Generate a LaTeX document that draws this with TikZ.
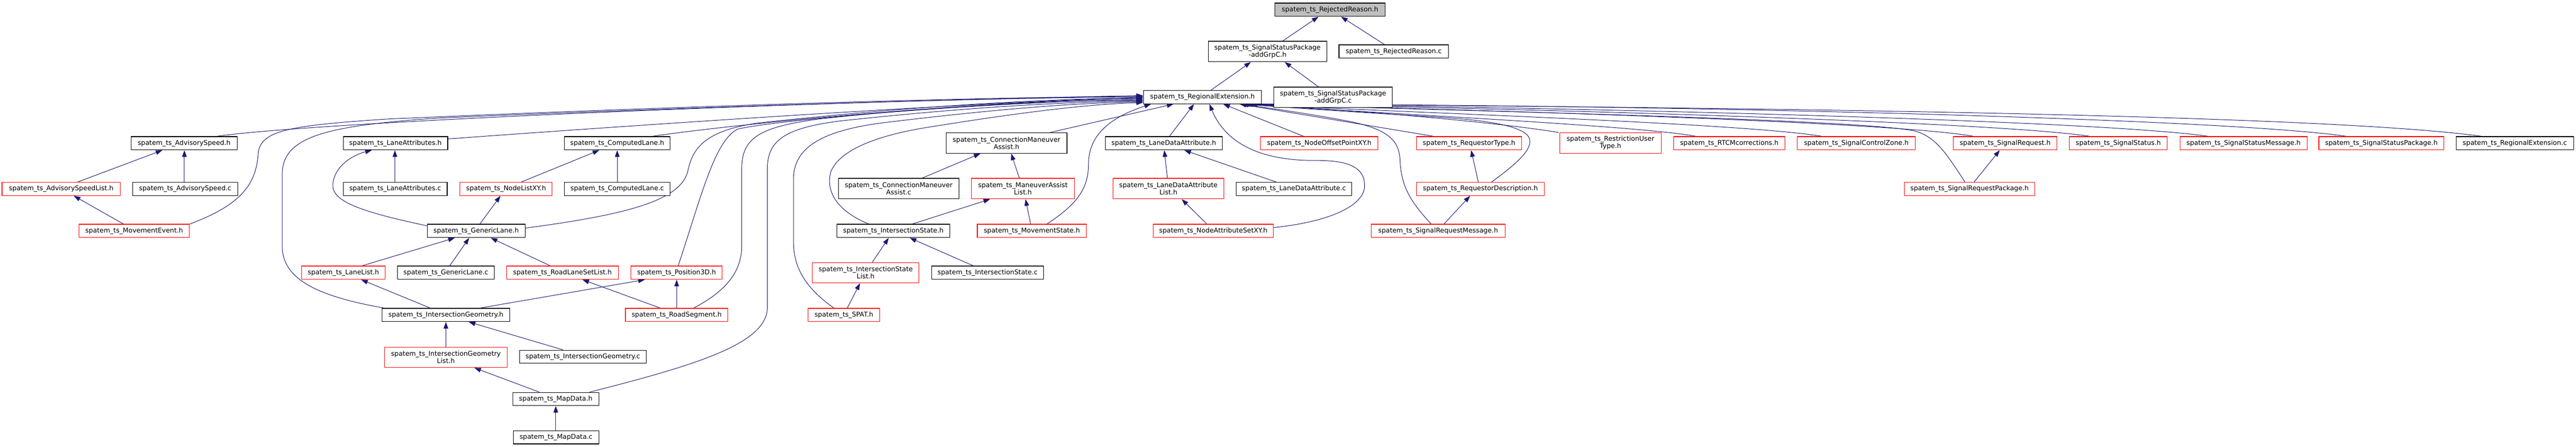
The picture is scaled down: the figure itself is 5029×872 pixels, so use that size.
\documentclass[tikz,border=0pt]{standalone}
\usepackage{fontspec}
\setmainfont{DejaVu Sans}
\usetikzlibrary{arrows.meta}
\definecolor{edgeblue}{RGB}{25,25,112}
\definecolor{rootgray}{RGB}{191,191,191}
\pgfdeclarelayer{bg}
\pgfsetlayers{bg,main}
\begin{document}
\begin{tikzpicture}[x=1pt,y=-1pt,
  nbox/.style={draw, rectangle, line width=1.1pt, fill=white, inner sep=0pt, minimum height=26pt,
    font=\fontsize{12.9}{14}\selectfont, align=center},
  blk/.style={nbox, draw=black},
  redbox/.style={nbox, draw=red},
  rootbox/.style={nbox, draw=black, fill=rootgray},
  tall/.style={minimum height=40pt},
  dep/.style={draw=edgeblue, line width=1pt, -{Triangle[length=13pt,width=9pt]}}]
\useasboundingbox (0,0) rectangle (5029,872);

% top
\node[rootbox, minimum width=215pt] (rr_h) at (2596.5,19) {spatem\_ts\_RejectedReason.h};
\node[blk, tall, minimum width=231pt] (sspg_h) at (2474.5,100.5) {spatem\_ts\_SignalStatusPackage\\-addGrpC.h};
\node[blk, minimum width=214pt] (rr_c) at (2721,100.5) {spatem\_ts\_RejectedReason.c};
\node[blk, minimum width=231pt] (re_h) at (2347.5,189.5) {spatem\_ts\_RegionalExtension.h};
\node[blk, tall, minimum width=231pt] (sspg_c) at (2602.5,190) {spatem\_ts\_SignalStatusPackage\\-addGrpC.c};

% row 1
\node[blk, minimum width=207pt] (as_h) at (359.5,279.5) {spatem\_ts\_AdvisorySpeed.h};
\node[blk, minimum width=204pt] (la_h) at (772,279.5) {spatem\_ts\_LaneAttributes.h};
\node[blk, minimum width=206pt] (cl_h) at (1205,279.5) {spatem\_ts\_ComputedLane.h};
\node[blk, tall, minimum width=236pt] (cma_h) at (1965,279) {spatem\_ts\_ConnectionManeuver\\Assist.h};
\node[blk, minimum width=228pt] (lda_h) at (2272,279.5) {spatem\_ts\_LaneDataAttribute.h};
\node[redbox, minimum width=229pt] (nop) at (2575.5,279.5) {spatem\_ts\_NodeOffsetPointXY.h};
\node[redbox, minimum width=206pt] (rt) at (2868,279.5) {spatem\_ts\_RequestorType.h};
\node[redbox, tall, minimum width=198pt] (rut) at (3144,279) {spatem\_ts\_RestrictionUser\\Type.h};
\node[redbox, minimum width=218pt] (rtcm) at (3376,279.5) {spatem\_ts\_RTCMcorrections.h};
\node[redbox, minimum width=230pt] (scz) at (3624,279.5) {spatem\_ts\_SignalControlZone.h};
\node[redbox, minimum width=203pt] (sr) at (3914.5,279.5) {spatem\_ts\_SignalRequest.h};
\node[redbox, minimum width=191pt] (ss) at (4135.5,279.5) {spatem\_ts\_SignalStatus.h};
\node[redbox, minimum width=248pt] (ssm) at (4380,279.5) {spatem\_ts\_SignalStatusMessage.h};
\node[redbox, minimum width=244pt] (ssp) at (4649,279.5) {spatem\_ts\_SignalStatusPackage.h};
\node[blk, minimum width=229pt] (re_c) at (4909.5,279.5) {spatem\_ts\_RegionalExtension.c};

% row 2
\node[redbox, minimum width=231pt] (asl) at (119.5,368.5) {spatem\_ts\_AdvisorySpeedList.h};
\node[blk, minimum width=205pt] (as_c) at (361.5,368.5) {spatem\_ts\_AdvisorySpeed.c};
\node[blk, minimum width=203pt] (la_c) at (771.5,368.5) {spatem\_ts\_LaneAttributes.c};
\node[redbox, minimum width=180pt] (nlxy) at (988,368.5) {spatem\_ts\_NodeListXY.h};
\node[blk, minimum width=206pt] (cl_c) at (1205,368.5) {spatem\_ts\_ComputedLane.c};
\node[blk, tall, minimum width=235pt] (cma_c) at (1754.5,368) {spatem\_ts\_ConnectionManeuver\\Assist.c};
\node[redbox, tall, minimum width=202pt] (mal) at (1997,368) {spatem\_ts\_ManeuverAssist\\List.h};
\node[redbox, tall, minimum width=216pt] (ldal) at (2281,368) {spatem\_ts\_LaneDataAttribute\\List.h};
\node[blk, minimum width=226pt] (lda_c) at (2526,368.5) {spatem\_ts\_LaneDataAttribute.c};
\node[redbox, minimum width=250pt] (rd) at (2890,368.5) {spatem\_ts\_RequestorDescription.h};
\node[redbox, minimum width=254pt] (srp) at (3845,368.5) {spatem\_ts\_SignalRequestPackage.h};

% row 3
\node[redbox, minimum width=216pt] (me) at (262,450.5) {spatem\_ts\_MovementEvent.h};
\node[blk, minimum width=191pt] (gl_h) at (929.5,450.5) {spatem\_ts\_GenericLane.h};
\node[blk, minimum width=220pt] (is_h) at (1744,450.5) {spatem\_ts\_IntersectionState.h};
\node[redbox, minimum width=213pt] (ms) at (2014.5,450.5) {spatem\_ts\_MovementState.h};
\node[redbox, minimum width=235pt] (nas) at (2368.5,450.5) {spatem\_ts\_NodeAttributeSetXY.h};
\node[redbox, minimum width=261pt] (srm) at (2807.5,450.5) {spatem\_ts\_SignalRequestMessage.h};

% row 4
\node[redbox, minimum width=163pt] (ll) at (670.5,532) {spatem\_ts\_LaneList.h};
\node[blk, minimum width=189pt] (gl_c) at (870.5,532) {spatem\_ts\_GenericLane.c};
\node[redbox, minimum width=218pt] (rlsl) at (1098,532) {spatem\_ts\_RoadLaneSetList.h};
\node[redbox, minimum width=178pt] (p3d) at (1321,532) {spatem\_ts\_Position3D.h};
\node[redbox, tall, minimum width=208pt] (isl) at (1690,532) {spatem\_ts\_IntersectionState\\List.h};
\node[blk, minimum width=218pt] (is_c) at (1928,532) {spatem\_ts\_IntersectionState.c};

% row 5
\node[blk, minimum width=249pt] (ig_h) at (870.5,614.5) {spatem\_ts\_IntersectionGeometry.h};
\node[redbox, minimum width=200pt] (rs) at (1321,614.5) {spatem\_ts\_RoadSegment.h};
\node[redbox, minimum width=139pt] (spat) at (1647.5,614.5) {spatem\_ts\_SPAT.h};

% rows 6-8
\node[redbox, tall, minimum width=239pt] (igl) at (870.5,697) {spatem\_ts\_IntersectionGeometry\\List.h};
\node[blk, minimum width=248pt] (ig_c) at (1138,696) {spatem\_ts\_IntersectionGeometry.c};
\node[blk, minimum width=168pt] (md_h) at (1085,778.5) {spatem\_ts\_MapData.h};
\node[blk, minimum width=167pt] (md_c) at (1085.5,853) {spatem\_ts\_MapData.c};

\begin{pgfonlayer}{bg}
% simple edges
\draw[dep] ([xshift=29.5pt]sspg_h.north) -- ([xshift=-22.5pt]rr_h.south);
\draw[dep] ([xshift=-18pt]rr_c.north) -- ([xshift=21.5pt]rr_h.south);
\draw[dep] ([xshift=16.5pt]re_h.north) -- ([xshift=-32.5pt]sspg_h.south);
\draw[dep] ([xshift=-28.5pt]sspg_c.north) -- ([xshift=33.5pt]sspg_h.south);
\draw[dep] ([xshift=32.5pt]asl.north) -- ([xshift=-42.5pt]as_h.south);
\draw[dep] ([xshift=-1.5pt]as_c.north) -- ([xshift=0.5pt]as_h.south);
\draw[dep] ([xshift=-21pt]me.north) -- ([xshift=24.5pt]asl.south);
\draw[dep] ([xshift=-0.5pt]la_c.north) -- ([xshift=-1pt]la_h.south);
\draw[dep] ([yshift=10pt]gl_h.west) .. controls (700,412) and (645,392) .. (650,357) .. controls (655,322) and (690,302) .. ([xshift=-46pt]la_h.south);
\draw[dep] ([xshift=30pt]nlxy.north) -- ([xshift=-35pt]cl_h.south);
\draw[dep] (cl_c.north) -- (cl_h.south);
\draw[dep] ([xshift=7.5pt]gl_h.north) -- ([xshift=-11pt]nlxy.south);
\draw[dep] ([xshift=36.5pt]ll.north) -- ([xshift=-41.5pt]gl_h.south);
\draw[dep] ([xshift=7.5pt]gl_c.north) -- ([xshift=-13.5pt]gl_h.south);
\draw[dep] ([xshift=-24pt]rlsl.north) -- ([xshift=28.5pt]gl_h.south);
\draw[dep] ([xshift=-32pt]rs.north) -- ([xshift=39pt]rlsl.south);
\draw[dep] (rs.north) -- (p3d.south);
\draw[dep] ([xshift=66.5pt]ig_h.north) -- ([xshift=-62pt]p3d.south);
\draw[dep] ([xshift=-30.5pt]ig_h.north) -- ([xshift=34.5pt]ll.south);
\draw[dep] (igl.north) -- (ig_h.south);
\draw[dep] ([xshift=-39pt]ig_c.north) -- ([xshift=44.5pt]ig_h.south);
\draw[dep] ([xshift=-32pt]md_h.north) -- ([xshift=55.5pt]igl.south);
\draw[dep] ([xshift=-0.5pt]md_c.north) -- (md_h.south);
\draw[dep] ([xshift=6.5pt]spat.north) -- ([xshift=-11pt]isl.south);
\draw[dep] ([xshift=13pt]isl.north) -- ([xshift=-9pt]is_h.south);
\draw[dep] ([xshift=-28pt]is_c.north) -- ([xshift=32pt]is_h.south);
\draw[dep] ([xshift=37pt]is_h.north) -- ([xshift=-64pt]mal.south);
\draw[dep] ([xshift=45.5pt]cma_c.north) -- ([xshift=-51pt]cma_h.south);
\draw[dep] ([xshift=-7pt]mal.north) -- ([xshift=9pt]cma_h.south);
\draw[dep] ([xshift=-2.5pt]ms.north) -- ([xshift=5pt]mal.south);
\draw[dep] ([xshift=-2pt]ldal.north) -- ([xshift=1pt]lda_h.south);
\draw[dep] ([xshift=-35pt]lda_c.north) -- ([xshift=40pt]lda_h.south);
\draw[dep] ([xshift=-12.5pt]nas.north) -- ([xshift=26pt]ldal.south);
\draw[dep] ([xshift=-4pt]rd.north) -- ([xshift=4pt]rt.south);
\draw[dep] ([xshift=11.5pt]srm.north) -- ([xshift=-20pt]rd.south);
\draw[dep] ([xshift=9pt]srp.north) -- ([xshift=-10.5pt]sr.south);

% into RegionalExtension.h, left side
\draw[dep] ([xshift=63.5pt]as_h.north) .. controls (600,240) and (1500,200) .. ([yshift=3pt]re_h.west);
\draw[dep] (me.north east) .. controls (470,400) and (500,360) .. (504,300) .. controls (508,255) and (560,245) .. (760,232) .. controls (1500,200) and (2000,189) .. ([yshift=1.5pt]re_h.west);
\draw[dep] ([xshift=-120.5pt]ig_h.north) .. controls (620,578) and (551,545) .. (551,480) -- (551,340) .. controls (551,265) and (640,245) .. (860,230) .. controls (1500,203) and (2000,190) .. ([yshift=0.5pt]re_h.west);
\draw[dep] ([yshift=8.5pt]la_h.east) .. controls (1300,240) and (1900,200) .. ([yshift=-0.5pt]re_h.west);
\draw[dep] ([yshift=5.5pt]gl_h.east) .. controls (1230,418) and (1330,390) .. (1343,333) .. controls (1352,290) and (1375,255) .. (1480,240) .. controls (1800,205) and (2050,193) .. ([yshift=-1.5pt]re_h.west);
\draw[dep] ([xshift=68pt]cl_h.north) .. controls (1450,240) and (1900,198) .. ([yshift=-2.5pt]re_h.west);
\draw[dep] ([xshift=3pt]p3d.north) .. controls (1370,380) and (1395,275) .. (1440,252) .. controls (1500,236) and (1900,200) .. ([yshift=-4.5pt]re_h.west);
\draw[dep] ([xshift=33pt]rs.north) .. controls (1410,572) and (1448,535) .. (1448,480) -- (1448,330) .. controls (1448,270) and (1480,248) .. (1600,232) .. controls (1850,205) and (2050,197) .. ([yshift=-6pt]re_h.west);
\draw[dep] ([xshift=66pt]md_h.north) .. controls (1360,712) and (1498,670) .. (1498,600) -- (1498,330) .. controls (1498,275) and (1530,250) .. (1640,236) .. controls (1900,208) and (2080,199) .. ([yshift=-7.5pt]re_h.west);
\draw[dep] ([xshift=-19.5pt]spat.north) .. controls (1570,560) and (1549,520) .. (1549,470) -- (1549,350) .. controls (1549,290) and (1600,256) .. (1720,240) .. controls (1950,212) and (2100,201) .. ([yshift=-9pt]re_h.west);
\draw[dep] ([xshift=-48pt]is_h.north) .. controls (1630,410) and (1612,370) .. (1622,335) .. controls (1640,290) and (1720,262) .. (1820,247) .. controls (2000,218) and (2130,203) .. ([yshift=-10.5pt]re_h.west);

% into RegionalExtension.h, bottom side
\draw[dep] ([xshift=29.5pt]ms.north) .. controls (2100,400) and (2125,370) .. (2125,320) .. controls (2125,262) and (2170,228) .. ([xshift=-100.5pt]re_h.south);
\draw[dep] ([xshift=85pt]cma_h.north) -- ([xshift=-56.5pt]re_h.south);
\draw[dep] ([xshift=11pt]lda_h.north) -- ([xshift=-16.5pt]re_h.south);
\draw[dep] ([yshift=6.5pt]nas.east) .. controls (2600,432) and (2664,400) .. (2664,362) .. controls (2664,326) and (2632,313) .. (2570,313) .. controls (2470,314) and (2395,285) .. ([xshift=13.5pt]re_h.south);
\draw[dep] ([xshift=-30.5pt]nop.north) -- ([xshift=40.5pt]re_h.south);
\draw[dep] ([xshift=-69pt]rt.north) -- ([xshift=72.5pt]re_h.south);
\draw[dep] ([xshift=-13.5pt]srm.north) .. controls (2750,390) and (2735,360) .. (2733,310) .. controls (2731,272) and (2705,252) .. (2640,238) .. controls (2560,222) and (2470,210) .. ([xshift=76.5pt]re_h.south);
\draw[dep] ([xshift=22pt]rd.north) .. controls (2960,320) and (2995,290) .. (2985,268) .. controls (2972,245) and (2900,234) .. (2800,228) .. controls (2650,219) and (2500,209) .. ([xshift=79.5pt]re_h.south);
\draw[dep] ([xshift=-101pt]rut.north) .. controls (2900,235) and (2600,212) .. ([xshift=82.5pt]re_h.south);
\draw[dep] ([xshift=-65pt]rtcm.north) .. controls (3200,245) and (2700,222) .. ([xshift=84.5pt]re_h.south);
\draw[dep] ([xshift=-67pt]scz.north) .. controls (3400,240) and (2750,220) .. ([xshift=86.5pt]re_h.south);
\draw[dep] ([xshift=-9pt]srp.north) .. controls (3800,300) and (3780,268) .. (3740,256) .. controls (3640,232) and (2800,215) .. ([xshift=88.5pt]re_h.south);
\draw[dep] ([xshift=-61.5pt]sr.north) .. controls (3700,238) and (2900,215) .. ([xshift=89.5pt]re_h.south);
\draw[dep] ([xshift=-55.5pt]ss.north) .. controls (3900,238) and (3000,212) .. ([xshift=90.5pt]re_h.south);
\draw[dep] ([xshift=-69pt]ssm.north) .. controls (4100,235) and (3100,210) .. ([xshift=91.5pt]re_h.south);
\draw[dep] ([xshift=-68pt]ssp.north) .. controls (4350,232) and (3300,205) .. ([xshift=92.5pt]re_h.south);
\draw[dep] ([xshift=-64.5pt]re_c.north) .. controls (4550,225) and (3500,210) .. ([xshift=93.5pt]re_h.south);
\end{pgfonlayer}
\end{tikzpicture}
\end{document}
